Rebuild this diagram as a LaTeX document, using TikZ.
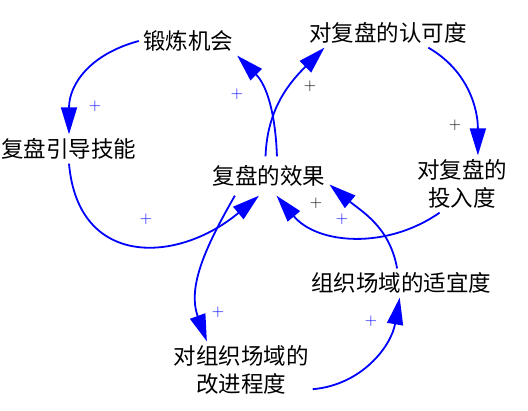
\documentclass[tikz,border=0pt]{standalone}
\usepackage{fontspec}
\newfontfamily\cjk{Noto Sans CJK SC}
\usetikzlibrary{arrows.meta}
\begin{document}
\begin{tikzpicture}[x=1pt, y=1pt,
      var/.style={inner sep=4pt, align=center, font=\cjk\fontsize{22.5}{28}\selectfont},
      link/.style={blue, line width=1.8pt, -{Triangle[length=27pt, width=16pt]}},
      sign/.style={blue, inner sep=0pt, font=\fontsize{17}{20}\selectfont}]
  \useasboundingbox (0,0) rectangle (528,-411);
      \node[var] (chance) at (188,-41) {锻炼机会};
      \node[var] (approve) at (388,-33) {对复盘的认可度};
      \node[var] (skill) at (69,-149) {复盘引导技能};
      \node[var, inner ysep=9pt] (effect) at (269,-176) {复盘的效果};
      \node[var] (invest) at (462,-184) {对复盘的\\投入度};
      \node[var] (fit) at (401,-283) {组织场域的适宜度};
      \node[var] (improve) at (241,-370) {对组织场域的\\改进程度};
      \draw[link] (chance.west) to[out=195, in=90, looseness=1.1] (skill.north);
      \draw[link] (skill.south) to[out=-85, in=-140, looseness=1.4] (effect.-117);
      \draw[link] (effect.68) to[out=92, in=-45] (chance.south east);
      \draw[link] (effect.100) to[out=88, in=-135] (approve.-167);
      \draw[link] (approve.-20) to[out=-30, in=90] (invest.61);
      \draw[link] (invest.-128) to[out=215, in=-50] (effect.-69);
      \draw[link] (fit.105) to[out=100, in=-40] (effect.-8);
      \draw[link] (effect.-150) to[out=240, in=110] (improve.140);
      \draw[link] (improve.-15) to[out=5, in=-100] (fit.-95);
      \node[sign] (s1) at (95,-106) {+};
      \node[sign] (s2) at (146,-219) {+};
      \node[sign] (s3) at (237,-94) {+};
      \node[sign, black] (s4) at (310,-86) {+};
      \node[sign, black] (s5) at (455,-125) {+};
      \node[sign, black] (s6) at (316,-203) {+};
      \node[sign] (s7) at (342,-219) {+};
      \node[sign] (s8) at (218,-312) {+};
      \node[sign] (s9) at (371,-321) {+};
\end{tikzpicture}
\end{document}
